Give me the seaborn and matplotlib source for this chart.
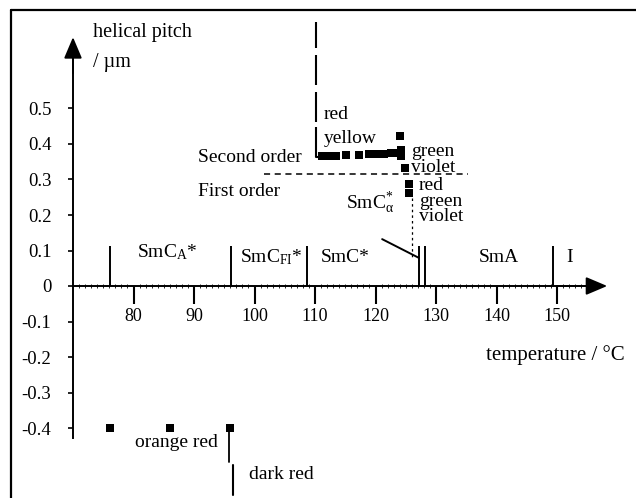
import matplotlib
matplotlib.use("Agg")
import matplotlib.pyplot as plt
from matplotlib.lines import Line2D
import seaborn as sns
import pandas as pd

# ---------------- data ----------------
second_order_T = [111.2, 112.4, 113.5, 115.1, 117.3, 118.9, 120.2, 121.4, 122.6, 123.6, 124.1, 124.2, 124.2, 124.8]
second_order_p = [0.366, 0.366, 0.366, 0.369, 0.369, 0.372, 0.372, 0.372, 0.374, 0.376, 0.423, 0.383, 0.366, 0.332]
first_order_T = [125.5, 125.5]
first_order_p = [0.287, 0.262]
low_T = [76.1, 86.1, 96.0]
low_p = [-0.40, -0.40, -0.40]

phase_T = [76.1, 96.1, 108.6, 127.2, 128.1, 149.3]
phase_top = 0.114

# diverging pitch at the SmC*/SmCFI* transition (segments of the vertical line)
div_T = 110.2
div_lo = [0.670, 0.566, 0.462, 0.363]
div_hi = [0.744, 0.651, 0.546, 0.448]

order_sep_p = 0.315
order_sep_T = [101.5, 135.3]

x_ticks = [80, 90, 100, 110, 120, 130, 140, 150]
x_ticklabels = ["80", "90", "100", "110", "120", "130", "140", "150"]
y_ticks = [0.5, 0.4, 0.3, 0.2, 0.1, 0.0, -0.1, -0.2, -0.3, -0.4]
y_ticklabels = ["0.5", "0.4", "0.3", "0.2", "0.1", "0", "-0.1", "-0.2", "-0.3", "-0.4"]

# ---------------- style ----------------
sns.set_theme(style="white")
plt.rcParams["font.family"] = ["Liberation Serif", "DejaVu Serif"]
plt.rcParams["mathtext.fontset"] = "custom"
plt.rcParams["mathtext.rm"] = "Liberation Serif"
plt.rcParams["mathtext.it"] = "Liberation Serif:italic"
plt.rcParams["axes.unicode_minus"] = False
for k in ["text.color", "axes.labelcolor", "xtick.color", "ytick.color", "axes.edgecolor"]:
    plt.rcParams[k] = "black"

fig = plt.figure(figsize=(6.36, 4.98), dpi=100)
ax = fig.add_axes([0, 0, 1, 1])
ax.set_facecolor("white")
ax.set_xlim(70 - 73 / 6.05, 70 + (636 - 73) / 6.05)
ax.set_ylim((286 - 498) / 355, 286 / 355)

# axes through origin
for s in ["top", "right"]:
    ax.spines[s].set_visible(False)
ax.spines["left"].set_position(("data", 70))
ax.spines["bottom"].set_position(("data", 0))
ax.spines["left"].set_bounds(-0.428, 0.66)
ax.spines["bottom"].set_bounds(70, 156)
for s in ["left", "bottom"]:
    ax.spines[s].set_linewidth(1.4)
    ax.spines[s].set_color("black")

ax.set_xticks(x_ticks)
ax.set_xticklabels(x_ticklabels)
ax.set_xticks([t for t in range(71, 157)], minor=True)
ax.set_yticks(y_ticks)
ax.set_yticklabels(y_ticklabels)
ax.tick_params(axis="x", which="major", direction="out", length=13, width=1.5,
               pad=3, labelsize=13, color="black", labelcolor="black", bottom=True)
ax.tick_params(axis="x", which="minor", direction="inout", length=3.5, width=0.6,
               color="black", bottom=True)
ax.tick_params(axis="y", which="major", direction="out", length=3.5, width=1.2,
               pad=12, labelsize=13.5, color="black", labelcolor="black", left=True)
ax.grid(False)

# arrow heads
arr = dict(arrowstyle="-|>,head_length=1.3,head_width=0.55", mutation_scale=10,
           color="black", lw=1.4, shrinkA=0, shrinkB=0)
ax.annotate("", xy=(70, 0.701), xytext=(70, 0.60), arrowprops=arr)
ax.annotate("", xy=(158.3, 0), xytext=(150, 0), arrowprops=arr)

# frame (top and left)
fig.add_artist(Line2D([11 / 636, 1.0], [1 - 10 / 498, 1 - 10 / 498], color="black", lw=1.6))
fig.add_artist(Line2D([11 / 636, 11 / 636], [0, 1 - 10 / 498], color="black", lw=1.6))

# phase boundaries
ax.vlines(phase_T, 0, phase_top, color="black", lw=1.4)

# data squares
df = pd.DataFrame({
    "T": second_order_T + first_order_T + low_T,
    "p": second_order_p + first_order_p + low_p,
})
sns.scatterplot(data=df, x="T", y="p", marker="s", s=38, color="black",
                linewidth=0, ax=ax, legend=False)
ax.set_xlabel("")
ax.set_ylabel("")

# diverging line segments
ax.vlines([div_T] * len(div_lo), div_lo, div_hi, color="black", lw=1.5)
ax.plot([div_T, 111.2], [0.363, 0.363], color="black", lw=1.5)

# separator between orders
ax.plot(order_sep_T, [order_sep_p, order_sep_p], color="black", lw=1.1,
        linestyle=(0, (4, 3)))
# dotted vertical under first order
ax.plot([126.0, 126.0], [0.248, 0.079], color="black", lw=0.9,
        linestyle=(0, (2, 2.5)))
# pointer to SmC*alpha
ax.plot([121.1, 127.2], [0.132, 0.079], color="black", lw=1.4)

# bottom colour markers
ax.plot([95.8, 95.8], [-0.412, -0.496], color="black", lw=1.3)
ax.plot([96.4, 96.4], [-0.504, -0.589], color="black", lw=1.5)

fs = 14
ax.text(73.3, 0.713, "helical pitch", fontsize=14.5, ha="left", va="center")
ax.text(73.3, 0.630, "/ µm", fontsize=14.5, ha="left", va="center")
ax.text(90.66, 0.361, "Second order", fontsize=fs, ha="left", va="center")
ax.text(90.66, 0.265, "First order", fontsize=fs, ha="left", va="center")
ax.text(111.5, 0.482, "red", fontsize=fs, ha="left", va="center")
ax.text(111.5, 0.415, "yellow", fontsize=fs, ha="left", va="center")
ax.text(125.95, 0.356, "green\nviolet", fontsize=fs, ha="left", va="center",
        linespacing=0.88)
ax.text(127.2, 0.239, "red\ngreen\nviolet", fontsize=fs, ha="left", va="center",
        linespacing=0.88)
ax.text(115.1, 0.217, r"SmC$^{*}_{\mathrm{\alpha}}$", fontsize=fs, ha="left", va="baseline")

ax.text(80.6, 0.082, r"SmC$_{\mathrm{A}}$*", fontsize=fs, ha="left", va="baseline")
ax.text(97.6, 0.068, r"SmC$_{\mathrm{FI}}$*", fontsize=fs, ha="left", va="baseline")
ax.text(111.0, 0.068, "SmC*", fontsize=fs, ha="left", va="baseline")
ax.text(137.1, 0.068, "SmA", fontsize=fs, ha="left", va="baseline")
ax.text(151.5, 0.068, "I", fontsize=fs, ha="left", va="baseline")

ax.text(138.3, -0.194, "temperature / °C", fontsize=15, ha="left", va="center")
ax.text(80.2, -0.442, "orange red", fontsize=fs, ha="left", va="center")
ax.text(99.1, -0.532, "dark red", fontsize=fs, ha="left", va="center")

fig.savefig("out.png", dpi=100)
